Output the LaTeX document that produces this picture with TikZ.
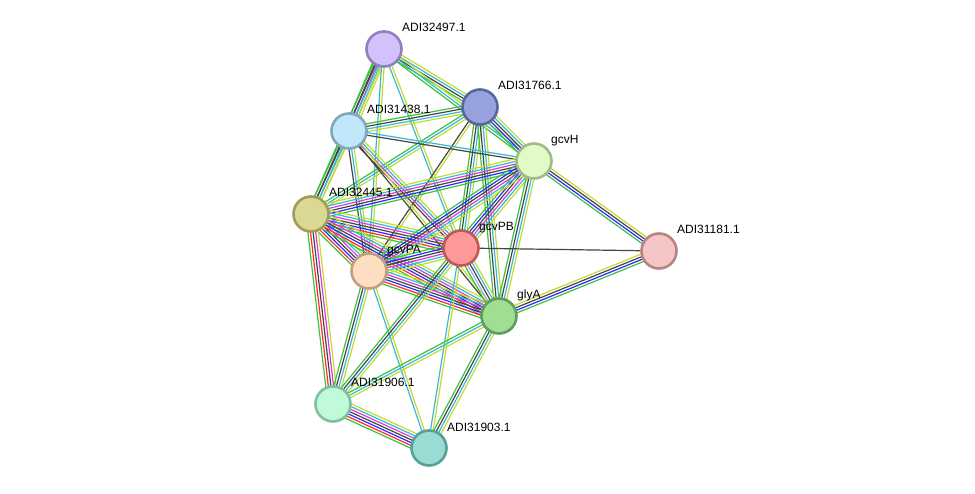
\documentclass[tikz,border=0pt]{standalone}
\usepackage{fontspec}
\setmainfont{Liberation Sans}
\usetikzlibrary{calc}
\pgfdeclarelayer{edges}
\pgfsetlayers{edges,main}

% evidence channel colours
\definecolor{evG}{HTML}{3CC23C}
\definecolor{evR}{HTML}{FF2A2A}
\definecolor{evU}{HTML}{2A2AFF}
\definecolor{evK}{HTML}{454545}
\definecolor{evM}{HTML}{D83CD8}
\definecolor{evC}{HTML}{38B8D8}
\definecolor{evY}{HTML}{C4DA30}
\definecolor{evL}{HTML}{A8A8FF}

\tikzset{
  strand/.style={line width=1.2pt},
  protein/.style={circle, minimum size=35pt, inner sep=0pt, line width=2.6pt},
  plabel/.style={anchor=base west, font=\fontsize{12}{14}\selectfont, inner sep=0pt}
}

% one bundle of parallel coloured strands between two nodes
\newcommand\strandedge[3]{%
  \gdef\nstrands{0}%
  \foreach \cc in {#3}{\xdef\nstrands{\the\numexpr\nstrands+1\relax}}%
  \foreach \cc [count=\ii] in {#3}{%
    \pgfmathsetmacro\offs{(\ii-(\nstrands+1)/2)*2.6}%
    \draw[strand,draw=ev\cc] ($(#1)!\offs pt!90:(#2)$) -- ($(#2)!\offs pt!-90:(#1)$);
  }}

\begin{document}
\begin{tikzpicture}[x=1pt,y=-1pt]
\useasboundingbox (0,0) rectangle (975,494);

% proteins
\node[protein, fill={rgb,255:red,212;green,192;blue,250}, draw={rgb,255:red,144;green,128;blue,192}] (A) at (384,49) {};
\node[protein, fill={rgb,255:red,152;green,162;blue,222}, draw={rgb,255:red,90;green,102;blue,160}] (B) at (480,107) {};
\node[protein, fill={rgb,255:red,192;green,232;blue,250}, draw={rgb,255:red,128;green,168;blue,188}] (C) at (349,131) {};
\node[protein, fill={rgb,255:red,224;green,250;blue,200}, draw={rgb,255:red,160;green,188;blue,136}] (H) at (534,161) {};
\node[protein, fill={rgb,255:red,218;green,216;blue,146}, draw={rgb,255:red,160;green,156;blue,92}] (E) at (311,214) {};
\node[protein, fill={rgb,255:red,255;green,153;blue,153}, draw={rgb,255:red,192;green,88;blue,88}] (PB) at (461,248) {};
\node[protein, fill={rgb,255:red,253;green,222;blue,192}, draw={rgb,255:red,192;green,160;blue,128}] (PA) at (369,271) {};
\node[protein, fill={rgb,255:red,245;green,198;blue,198}, draw={rgb,255:red,184;green,132;blue,132}] (F) at (659,251) {};
\node[protein, fill={rgb,255:red,160;green,222;blue,148}, draw={rgb,255:red,94;green,158;blue,88}] (G) at (499,316) {};
\node[protein, fill={rgb,255:red,192;green,250;blue,216}, draw={rgb,255:red,128;green,192;blue,156}] (S) at (333,404) {};
\node[protein, fill={rgb,255:red,152;green,220;blue,212}, draw={rgb,255:red,88;green,160;blue,152}] (T) at (429,448) {};

% labels
\node[plabel] (lA) at (402,32) {ADI32497.1};
\node[plabel] (lB) at (498,90) {ADI31766.1};
\node[plabel] (lC) at (367,114) {ADI31438.1};
\node[plabel] (lH) at (551,144) {gcvH};
\node[plabel] (lE) at (329,197) {ADI32445.1};
\node[plabel] (lPB) at (479,231) {gcvPB};
\node[plabel] (lPA) at (387,254) {gcvPA};
\node[plabel] (lF) at (677,234) {ADI31181.1};
\node[plabel] (lG) at (517,299) {glyA};
\node[plabel] (lS) at (351,387) {ADI31906.1};
\node[plabel] (lT) at (447,431) {ADI31903.1};

\begin{pgfonlayer}{edges}
\strandedge{A}{B}{G,K,C,Y}
\strandedge{A}{H}{G,C,Y}
\strandedge{A}{C}{G,K,M,C,Y}
\strandedge{A}{E}{G,K,C,Y}
\strandedge{A}{PA}{C,Y}
\strandedge{A}{PB}{C,Y}
\strandedge{B}{C}{G,K,C,Y}
\strandedge{B}{H}{G,U,K,C,Y}
\strandedge{B}{E}{G,C,Y}
\strandedge{B}{PA}{K,Y}
\strandedge{B}{PB}{G,K,C,Y}
\strandedge{B}{G}{G,K,C,Y}
\strandedge{C}{H}{K,C}
\strandedge{C}{E}{G,K,C,Y}
\strandedge{C}{PA}{K,C,Y}
\strandedge{C}{PB}{K,M,C,Y}
\strandedge{C}{G}{K,Y}
\strandedge{E}{H}{G,U,K,M,C,Y}
\strandedge{E}{PB}{G,R,U,K,M,C,Y}
\strandedge{E}{PA}{G,R,U,K,M,C,Y}
\strandedge{E}{G}{G,R,U,K,M,C,Y}
\strandedge{E}{S}{G,R,K,M,Y}
\strandedge{H}{PB}{G,U,K,M,C,Y}
\strandedge{H}{PA}{G,U,K,M,C,Y}
\strandedge{H}{G}{G,K,C,Y}
\strandedge{H}{F}{G,U,K,Y}
\strandedge{PB}{F}{K}
\strandedge{G}{F}{G,U,K,Y}
\strandedge{PB}{PA}{G,U,K,M,C,Y}
\strandedge{PB}{G}{G,L,K,C,Y}
\strandedge{PA}{G}{G,R,U,K,M,C,Y}
\strandedge{PA}{S}{G,K,C,Y}
\strandedge{PA}{T}{C,Y}
\strandedge{PB}{S}{G,K,C,Y}
\strandedge{PB}{T}{C,Y}
\strandedge{G}{S}{G,C,Y}
\strandedge{G}{T}{G,K,C,Y}
\strandedge{S}{T}{G,R,U,K,M,C,Y}
\end{pgfonlayer}
\end{tikzpicture}
\end{document}
